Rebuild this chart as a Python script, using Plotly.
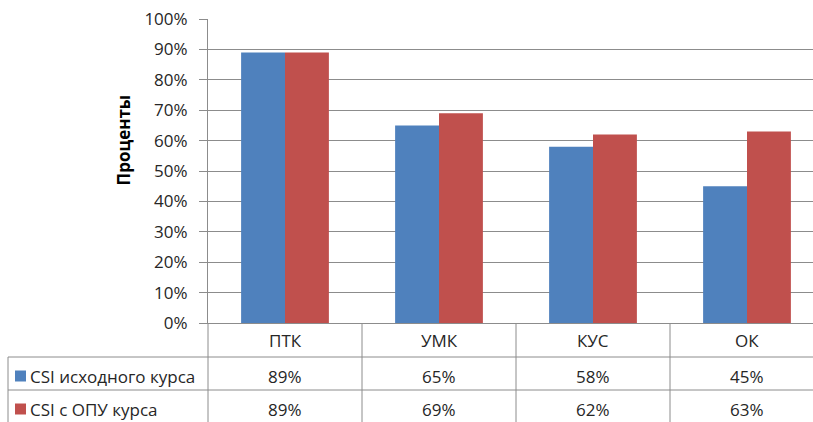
import plotly.graph_objects as go

categories = ["ПТК", "УМК", "КУС", "ОК"]
series_names = ["CSI исходного курса", "CSI с ОПУ курса"]
values_initial = [0.89, 0.65, 0.58, 0.45]
values_opu = [0.89, 0.69, 0.62, 0.63]
colors = ["#4F81BD", "#C0504D"]
y_title = "Проценты"

W, H = 813, 422
ML, MR, MT, MB = 208, 0, 19, 99
PW, PH = W - ML - MR, H - MT - MB
CAT_W = 154.0

def px_y(py):
    return (H - MB - py) / PH

def px_x(px):
    return (px - ML) / PW

FONT = "'Open Sans', 'Liberation Sans', sans-serif"
TXT = "#262626"
LINE = "#8C8C8C"
FS = 17

fig = go.Figure()
for name, vals, col in zip(series_names, [values_initial, values_opu], colors):
    fig.add_trace(go.Bar(x=list(range(len(categories))), y=vals, name=name,
                         marker=dict(color=col, line=dict(width=0)),
                         showlegend=False, hoverinfo="skip"))

x_max = -0.5 + PW / CAT_W

shapes = []
for py in [357, 390]:
    shapes.append(dict(type="line", xref="paper", yref="paper",
                       x0=px_x(8), x1=1.02, y0=px_y(py), y1=px_y(py),
                       line=dict(color=LINE, width=1)))
shapes.append(dict(type="line", xref="paper", yref="paper",
                   x0=px_x(8), x1=px_x(8), y0=px_y(357), y1=px_y(430),
                   line=dict(color=LINE, width=1)))
shapes.append(dict(type="line", xref="paper", yref="paper",
                   x0=0, x1=0, y0=px_y(323), y1=px_y(430),
                   line=dict(color=LINE, width=1)))
for i in range(len(categories)):
    b = i + 0.5
    shapes.append(dict(type="line", xref="x", yref="paper",
                       x0=b, x1=b, y0=px_y(323), y1=px_y(430),
                       line=dict(color=LINE, width=1)))
for py_c, col in zip([376, 409], colors):
    shapes.append(dict(type="rect", xref="paper", yref="paper",
                       x0=px_x(15), x1=px_x(26), y0=px_y(py_c + 5.5), y1=px_y(py_c - 5.5),
                       fillcolor=col, line=dict(width=0)))

annotations = []
for i, c in enumerate(categories):
    annotations.append(dict(x=i, y=px_y(340), xref="x", yref="paper", text=c,
                            showarrow=False, yanchor="middle",
                            font=dict(size=FS, color=TXT, family=FONT)))
for row_vals, py_c in zip([values_initial, values_opu], [376, 409]):
    for i, v in enumerate(row_vals):
        annotations.append(dict(x=i, y=px_y(py_c), xref="x", yref="paper",
                                text=f"{round(v*100)}%", showarrow=False, yanchor="middle",
                                font=dict(size=FS, color=TXT, family=FONT)))
for name, py_c in zip(series_names, [376, 409]):
    annotations.append(dict(x=px_x(28), y=px_y(py_c), xref="paper", yref="paper",
                            text=name, showarrow=False, xanchor="left", yanchor="middle",
                            font=dict(size=FS, color=TXT, family=FONT)))
annotations.append(dict(x=px_x(109), y=px_y(140), xref="paper", yref="paper",
                        text=f"<b>{y_title}</b>", textangle=-90, showarrow=False,
                        font=dict(size=17, color="#000000", family=FONT)))

fig.update_layout(
    width=W, height=H,
    margin=dict(l=ML, r=MR, t=MT, b=MB, pad=0),
    paper_bgcolor="white", plot_bgcolor="white",
    barmode="group", bargap=0.43, bargroupgap=0,
    xaxis=dict(range=[-0.5, x_max], showticklabels=False, showgrid=False,
               zeroline=False, showline=True, linecolor=LINE, linewidth=1,
               ticks="", fixedrange=True),
    yaxis=dict(range=[0, 1], dtick=0.1, tick0=0, tickformat=".0%",
               showgrid=True, gridcolor=LINE, gridwidth=1,
               showline=True, linecolor=LINE, linewidth=1,
               ticks="outside", ticklen=8, tickcolor=LINE,
               zeroline=False, automargin=False, ticklabelstandoff=8,
               tickfont=dict(size=FS, color=TXT, family=FONT)),
    shapes=shapes, annotations=annotations,
)

fig.write_html("out.html", config={"displayModeBar": False},
               post_script="document.body.style.margin='0';document.body.style.overflow='hidden';")
